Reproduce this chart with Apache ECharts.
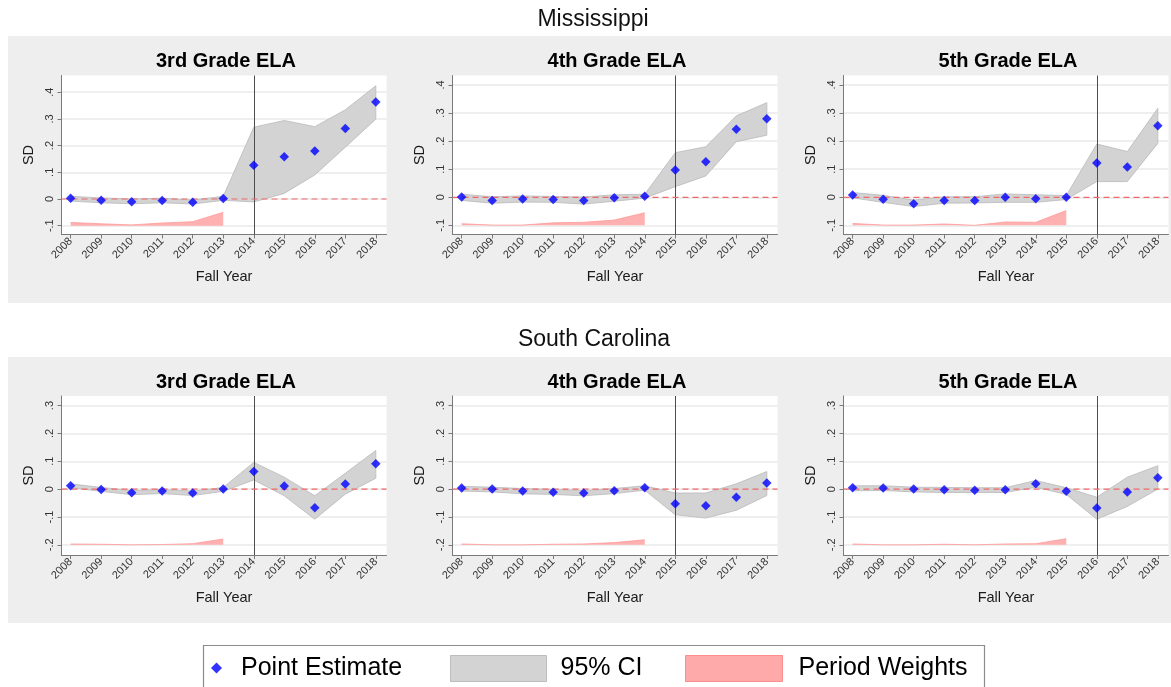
<!DOCTYPE html>
<html>
<head>
<meta charset="utf-8">
<script src="https://cdn.jsdelivr.net/npm/echarts@6/dist/echarts.min.js"></script>
<style>
  html, body { margin: 0; padding: 0; background: #ffffff; }
  #chart { width: 1171px; height: 687px; }
</style>
</head>
<body>
<div id="chart"></div>
<script>
// ---- data -------------------------------------------------------------
const years = [2008, 2009, 2010, 2011, 2012, 2013, 2014, 2015, 2016, 2017, 2018];
const states = ['Mississippi', 'South Carolina'];
const grades = ['3rd Grade ELA', '4th Grade ELA', '5th Grade ELA'];
const yTicksMS = [-0.1, 0, 0.1, 0.2, 0.3, 0.4];
const yTicksSC = [-0.2, -0.1, 0, 0.1, 0.2, 0.3];
const treatYearsMS = [2014, 2015, 2016];
const treatYearsSC = [2014, 2015, 2016];
const weightBaseMS = -0.1;
const weightBaseSC = -0.2;
const zeroLevel = 0;

// Mississippi, 3rd grade
const ms3Est = [0.003, -0.005, -0.010, -0.006, -0.012, 0.002, 0.126, 0.158, 0.180, 0.264, 0.363];
const ms3Lo  = [-0.008, -0.014, -0.018, -0.014, -0.019, -0.005, -0.011, 0.021, 0.090, 0.194, 0.299];
const ms3Hi  = [0.010, 0.004, 0.000, 0.003, -0.004, 0.010, 0.269, 0.294, 0.271, 0.334, 0.424];
const ms3Wt  = [-0.088, -0.093, -0.097, -0.090, -0.085, -0.050];

// Mississippi, 4th grade
const ms4Est = [0.001, -0.011, -0.006, -0.008, -0.011, -0.002, 0.004, 0.097, 0.127, 0.242, 0.280];
const ms4Lo  = [-0.011, -0.021, -0.017, -0.018, -0.024, -0.014, -0.003, 0.038, 0.076, 0.198, 0.221];
const ms4Hi  = [0.011, 0.002, 0.005, 0.003, 0.001, 0.009, 0.011, 0.159, 0.180, 0.290, 0.337];
const ms4Wt  = [-0.094, -0.099, -0.099, -0.091, -0.089, -0.081, -0.055];

// Mississippi, 5th grade
const ms5Est = [0.008, -0.007, -0.023, -0.011, -0.011, 0.000, -0.005, 0.000, 0.122, 0.108, 0.255];
const ms5Lo  = [-0.002, -0.018, -0.033, -0.021, -0.020, -0.018, -0.018, -0.008, 0.056, 0.056, 0.192];
const ms5Hi  = [0.017, 0.007, -0.010, 0.002, 0.002, 0.012, 0.009, 0.006, 0.190, 0.163, 0.317];
const ms5Wt  = [-0.093, -0.099, -0.099, -0.095, -0.100, -0.088, -0.089, -0.047];

// South Carolina, 3rd grade
const sc3Est = [0.012, -0.001, -0.013, -0.007, -0.014, 0.000, 0.063, 0.011, -0.067, 0.018, 0.091];
const sc3Lo  = [0.005, -0.008, -0.020, -0.016, -0.023, -0.008, 0.033, -0.024, -0.108, -0.018, 0.039];
const sc3Hi  = [0.019, 0.006, -0.005, -0.001, -0.007, 0.006, 0.096, 0.043, -0.024, 0.057, 0.139];
const sc3Wt  = [-0.197, -0.198, -0.200, -0.199, -0.196, -0.179];

// South Carolina, 4th grade
const sc4Est = [0.004, 0.000, -0.007, -0.011, -0.014, -0.006, 0.005, -0.053, -0.060, -0.029, 0.022];
const sc4Lo  = [-0.007, -0.010, -0.017, -0.019, -0.024, -0.016, -0.004, -0.092, -0.104, -0.076, -0.023];
const sc4Hi  = [0.010, 0.007, 0.002, -0.001, -0.005, 0.002, 0.012, -0.014, -0.014, 0.019, 0.063];
const sc4Wt  = [-0.197, -0.200, -0.200, -0.198, -0.197, -0.192, -0.182];

// South Carolina, 5th grade
const sc5Est = [0.005, 0.004, 0.000, -0.002, -0.004, -0.002, 0.019, -0.008, -0.068, -0.010, 0.041];
const sc5Lo  = [-0.006, -0.005, -0.010, -0.012, -0.012, -0.012, 0.007, -0.019, -0.108, -0.062, 0.000];
const sc5Hi  = [0.012, 0.012, 0.007, 0.006, 0.005, 0.005, 0.031, 0.005, -0.029, 0.043, 0.084];
const sc5Wt  = [-0.197, -0.200, -0.200, -0.198, -0.200, -0.197, -0.196, -0.178];

// ---- layout -------------------------------------------------------------
const FONT = '"Liberation Sans", Arial, Helvetica, sans-serif';
const colLeft = [61.5, 452.5, 843.5];
const plotWidth = 325;
const rowTop = [75.5, 396];
const plotHeight = [159, 159];
const xRange = [2007.7, 2018.35];
const yRanges = [
  [-0.133, 0.4625], [-0.1325, 0.4338], [-0.1325, 0.4338],
  [-0.2366, 0.3344], [-0.2366, 0.3344], [-0.2366, 0.3344]
];

const panels = [
  { row: 0, col: 0, est: ms3Est, lo: ms3Lo, hi: ms3Hi, wt: ms3Wt, treat: treatYearsMS[0], ticks: yTicksMS, base: weightBaseMS },
  { row: 0, col: 1, est: ms4Est, lo: ms4Lo, hi: ms4Hi, wt: ms4Wt, treat: treatYearsMS[1], ticks: yTicksMS, base: weightBaseMS },
  { row: 0, col: 2, est: ms5Est, lo: ms5Lo, hi: ms5Hi, wt: ms5Wt, treat: treatYearsMS[2], ticks: yTicksMS, base: weightBaseMS },
  { row: 1, col: 0, est: sc3Est, lo: sc3Lo, hi: sc3Hi, wt: sc3Wt, treat: treatYearsSC[0], ticks: yTicksSC, base: weightBaseSC },
  { row: 1, col: 1, est: sc4Est, lo: sc4Lo, hi: sc4Hi, wt: sc4Wt, treat: treatYearsSC[1], ticks: yTicksSC, base: weightBaseSC },
  { row: 1, col: 2, est: sc5Est, lo: sc5Lo, hi: sc5Hi, wt: sc5Wt, treat: treatYearsSC[2], ticks: yTicksSC, base: weightBaseSC }
];

// Stata-style tick labels: ".4", "-.1", "0"
function sdLabel(v) {
  if (Math.abs(v) < 1e-9) return '0';
  const s = Math.abs(v).toFixed(1).replace(/^0/, '');
  return (v < 0 ? '-' : '') + s;
}

const axisGray = '#7a7a7a';
const bandFill = '#d3d3d3';
const bandEdge = '#b9b9b9';
const grid = [], xAxis = [], yAxis = [], series = [], graphics = [];

// grey backdrops behind each state's row of panels
graphics.push({ type: 'rect', z: -5, shape: { x: 8, y: 36, width: 1163, height: 267 }, style: { fill: '#eeeeee' } });
graphics.push({ type: 'rect', z: -5, shape: { x: 8, y: 357, width: 1163, height: 266 }, style: { fill: '#eeeeee' } });
graphics.push({ type: 'text', x: 593, y: 20, style: { text: states[0], font: '23px ' + FONT, fill: '#111', align: 'center', verticalAlign: 'middle' } });
graphics.push({ type: 'text', x: 594, y: 340, style: { text: states[1], font: '23px ' + FONT, fill: '#111', align: 'center', verticalAlign: 'middle' } });

panels.forEach((p, i) => {
  const left = colLeft[p.col];
  const top = rowTop[p.row];
  grid.push({
    left: left, top: top, width: plotWidth, height: plotHeight[p.row],
    show: true, backgroundColor: '#ffffff', borderWidth: 0,
    containLabel: false, outerBoundsMode: 'none'
  });
  graphics.push({
    type: 'text', x: left + plotWidth / 2 + 2, y: top - 14,
    style: { text: grades[p.col], font: 'bold 20px ' + FONT, fill: '#000', align: 'center', verticalAlign: 'middle' }
  });
  xAxis.push({
    type: 'value', gridIndex: i, min: xRange[0], max: xRange[1],
    axisLine: { show: true, onZero: false, lineStyle: { color: axisGray, width: 1 } },
    axisTick: { show: true, customValues: years, length: 4, lineStyle: { color: axisGray } },
    axisLabel: { show: true, customValues: years, rotate: 45, margin: 5, fontSize: 11, fontFamily: FONT, color: '#333', formatter: v => String(v) },
    splitLine: { show: false },
    name: 'Fall Year', nameLocation: 'middle', nameGap: 35, nameMoveOverlap: false,
    nameTextStyle: { fontSize: 14.5, fontFamily: FONT, color: '#1a1a1a' }
  });
  yAxis.push({
    type: 'value', gridIndex: i, min: yRanges[i][0], max: yRanges[i][1],
    axisLine: { show: true, onZero: false, lineStyle: { color: axisGray, width: 1 } },
    axisTick: { show: true, customValues: p.ticks, length: 4, lineStyle: { color: axisGray } },
    axisLabel: { show: true, customValues: p.ticks, rotate: 90, margin: 6, fontSize: 11, fontFamily: FONT, color: '#333', formatter: sdLabel },
    splitLine: { show: true, lineStyle: { color: '#eaeaea', width: 1.5 } },
    name: 'SD', nameLocation: 'middle', nameGap: 25, nameMoveOverlap: false,
    nameTextStyle: { fontSize: 14.5, fontFamily: FONT, color: '#1a1a1a' }
  });

  // 95% confidence band: one polygon, upper bound forward, lower bound back
  series.push({
    name: '95% CI', type: 'custom', xAxisIndex: i, yAxisIndex: i, z: 1,
    itemStyle: { color: bandFill },
    encode: { x: 0, y: [1, 2] },
    data: years.map((y, k) => [y, p.lo[k], p.hi[k]]),
    renderItem: (params, api) => {
      if (params.dataIndex !== 0) return null;
      const upper = years.map((y, k) => api.coord([y, p.hi[k]]));
      const lower = years.map((y, k) => api.coord([y, p.lo[k]])).reverse();
      return {
        type: 'polygon',
        shape: { points: upper.concat(lower) },
        style: { fill: bandFill, stroke: bandEdge, lineWidth: 0.8 }
      };
    }
  });
  // pre-period weights, filled down to the baseline tick; carries the treatment-year marker
  series.push({
    name: 'Period Weights', type: 'line', xAxisIndex: i, yAxisIndex: i,
    symbol: 'none', z: 2,
    lineStyle: { color: '#ff9a9a', width: 0.8 },
    areaStyle: { color: '#ffb0b0', opacity: 1, origin: p.base },
    data: p.wt.map((w, k) => [years[k], w]),
    markLine: {
      silent: true, symbol: 'none', z: 3,
      label: { show: false },
      lineStyle: { color: '#4d4d4d', type: 'solid', width: 1 },
      data: [{ xAxis: p.treat }]
    }
  });
  // dashed zero reference across the whole panel
  series.push({
    name: 'zero', type: 'line', xAxisIndex: i, yAxisIndex: i,
    symbol: 'none', z: 4, silent: true,
    lineStyle: { color: '#ee6a6a', type: [6, 4], width: 1.2 },
    data: [[xRange[0], zeroLevel], [xRange[1], zeroLevel]]
  });
  // point estimates
  series.push({
    name: 'Point Estimate', type: 'scatter', xAxisIndex: i, yAxisIndex: i,
    symbol: 'diamond', symbolSize: 9.5, z: 6,
    itemStyle: { color: '#0000ff' },
    data: years.map((y, k) => [y, p.est[k]])
  });
});

// legend frame
graphics.push({ type: 'rect', z: -1, shape: { x: 203.5, y: 645.5, width: 781, height: 60 }, style: { fill: '#ffffff', stroke: '#8c8c8c', lineWidth: 1.2 } });

const legendText = { fontSize: 25, fontFamily: FONT, color: '#000' };
const legend = [
  {
    left: 211, top: 655.5, padding: 0, selectedMode: false, itemWidth: 11, itemHeight: 11,
    data: [{ name: 'Point Estimate', icon: 'diamond', itemStyle: { color: '#0000ff', borderWidth: 0 } }],
    textStyle: Object.assign({ padding: [0, 0, 0, 14] }, legendText)
  },
  {
    left: 450, top: 655, padding: 0, selectedMode: false, itemWidth: 96, itemHeight: 26,
    data: [{ name: '95% CI', icon: 'rect', itemStyle: { color: '#d3d3d3', borderColor: '#bdbdbd', borderWidth: 1 } }],
    textStyle: Object.assign({ padding: [0, 0, 0, 9] }, legendText)
  },
  {
    left: 685, top: 655, padding: 0, selectedMode: false, itemWidth: 97, itemHeight: 26,
    data: [{ name: 'Period Weights', icon: 'rect', itemStyle: { color: '#ffaaaa', borderColor: '#ff8c8c', borderWidth: 1 } }],
    textStyle: Object.assign({ padding: [0, 0, 0, 11] }, legendText)
  }
];

const chart = echarts.init(document.getElementById('chart'), null, { renderer: 'canvas' });
chart.setOption({
  animation: false,
  backgroundColor: '#ffffff',
  textStyle: { fontFamily: FONT },
  grid: grid,
  xAxis: xAxis,
  yAxis: yAxis,
  legend: legend,
  graphic: { elements: graphics },
  series: series
});
</script>
</body>
</html>
